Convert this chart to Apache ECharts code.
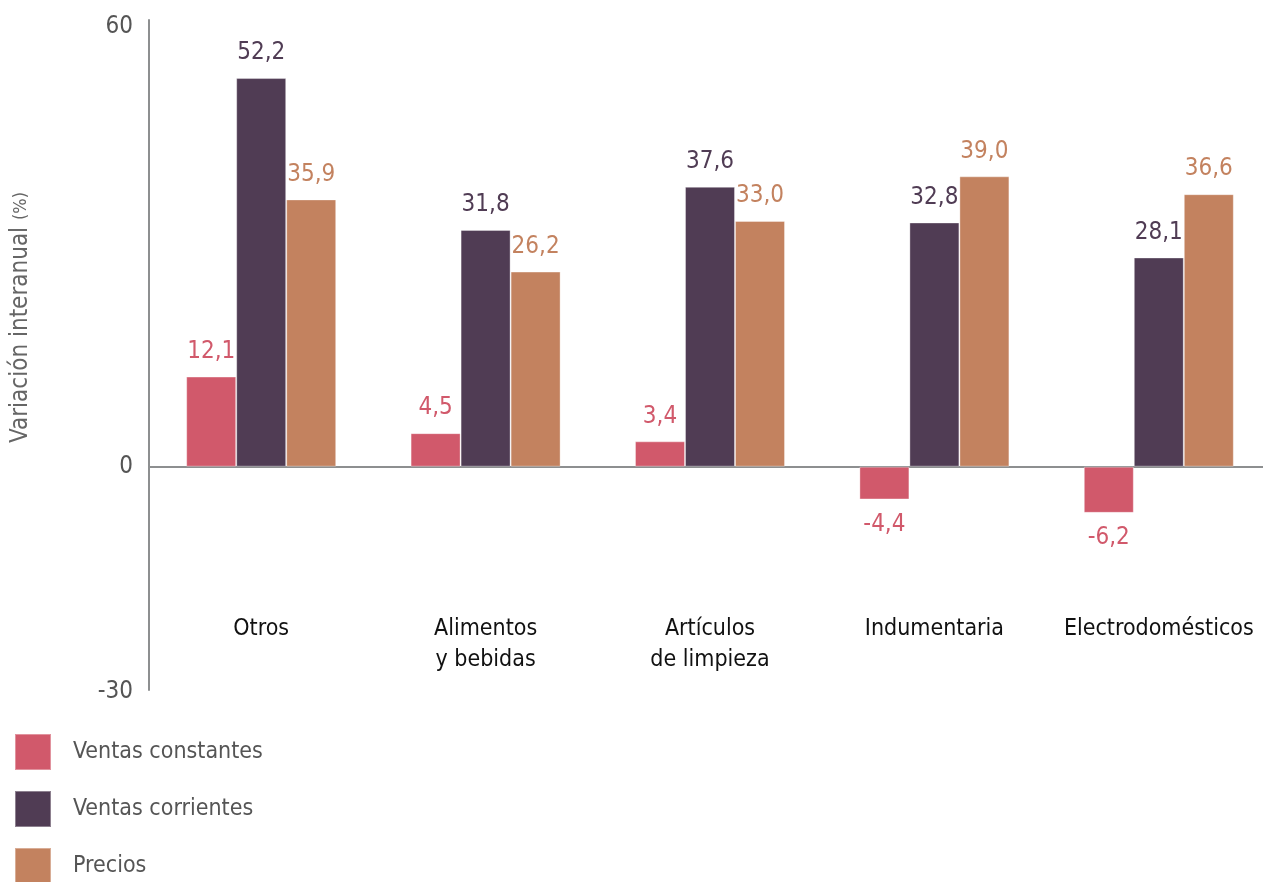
<!DOCTYPE html>
<html>

<head>
    <meta charset="utf-8">
    <script src="https://cdn.jsdelivr.net/npm/echarts@6/dist/echarts.min.js"></script>
    <style>
        html, body { margin: 0; padding: 0; background: #fff; }
        #main { width: 1263px; height: 882px; }
    </style>
</head>

<body>
    <div id="main"></div>
    <script type="text/javascript">

        // datos
        var categorias = ['Otros', 'Alimentos\ny bebidas', 'Artículos\nde limpieza', 'Indumentaria', 'Electrodomésticos'];
        var ventasConstantes = [12.1, 4.5, 3.4, -4.4, -6.2];
        var ventasCorrientes = [52.2, 31.8, 37.6, 32.8, 28.1];
        var precios = [35.9, 26.2, 33.0, 39.0, 36.6];
        var nombres = ['Ventas constantes', 'Ventas corrientes', 'Precios'];
        var colores = ['#d1596b', '#503c54', '#c3825f'];
        var ticksY = [-30, 0, 60];

        var fuente = "'Liberation Sans Narrow', 'DejaVu Sans Condensed', sans-serif";

        function fmt(v) {
            return v.toFixed(1).replace('.', ',');
        }

        function serie(nombre, valores, color) {
            return {
                name: nombre,
                type: 'bar',
                barWidth: 50,
                barGap: 0,
                itemStyle: { color: color, borderColor: 'rgba(255,255,255,0.35)', borderWidth: 1 },
                data: valores.map(function (v) {
                    return {
                        value: v,
                        label: { position: v < 0 ? 'bottom' : 'top' }
                    };
                }),
                label: {
                    show: true,
                    distance: 13,
                    color: color,
                    fontSize: 24,
                    fontFamily: fuente,
                    formatter: function (p) { return fmt(p.value); }
                }
            };
        }

        var myChart = echarts.init(document.getElementById('main'));

        myChart.setOption({
            animation: false,
            grid: { left: 149, width: 1122, top: 20, bottom: 192, outerBoundsMode: 'none', containLabel: false },
            legend: {
                orient: 'vertical',
                left: 14,
                top: 733,
                height: 170,
                padding: 0,
                itemWidth: 36,
                itemHeight: 36,
                itemGap: 19,
                icon: 'rect',
                data: nombres,
                textStyle: { fontSize: 23, color: '#555', fontFamily: fuente, padding: [18, 0, 0, 17] }
            },
            graphic: [{
                type: 'text',
                left: 9,
                top: 192,
                rotation: Math.PI / 2,
                style: {
                    text: '{a|Variación interanual }{b|(%)}',
                    rich: {
                        a: { fontSize: 24, fill: '#666', fontFamily: fuente },
                        b: { fontSize: 18, fill: '#666', fontFamily: fuente }
                    }
                }
            }],
            xAxis: [{
                type: 'category',
                data: categorias,
                axisLine: { onZero: true, lineStyle: { color: '#8d8f90', width: 2 } },
                axisTick: { show: false },
                axisLabel: { show: false }
            }, {
                type: 'category',
                data: categorias,
                position: 'bottom',
                offset: -76,
                axisLine: { show: false },
                axisTick: { show: false },
                axisLabel: {
                    interval: 0,
                    margin: 0,
                    fontSize: 23,
                    lineHeight: 31,
                    color: '#111',
                    fontFamily: fuente
                }
            }],
            yAxis: {
                type: 'value',
                min: -30,
                max: 60,
                interval: 30,
                splitLine: { show: false },
                axisTick: { show: false },
                axisLine: { show: true, lineStyle: { color: '#8d8f90', width: 2 } },
                axisLabel: {
                    fontSize: 24,
                    color: '#555',
                    margin: 16,
                    fontFamily: fuente,
                    rich: {
                        alto: { fontSize: 24, color: '#555', fontFamily: fuente, padding: [14, 0, 0, 0] },
                        bajo: { fontSize: 24, color: '#555', fontFamily: fuente, padding: [4, 0, 0, 0] }
                    },
                    formatter: function (v) {
                        if (ticksY.indexOf(v) < 0) return '';
                        if (v === 60) return '{alto|' + v + '}';
                        if (v === -30) return '{bajo|' + v + '}';
                        return String(v);
                    }
                }
            },
            series: [
                serie(nombres[0], ventasConstantes, colores[0]),
                serie(nombres[1], ventasCorrientes, colores[1]),
                serie(nombres[2], precios, colores[2])
            ]
        });
    </script>
</body>

</html>
